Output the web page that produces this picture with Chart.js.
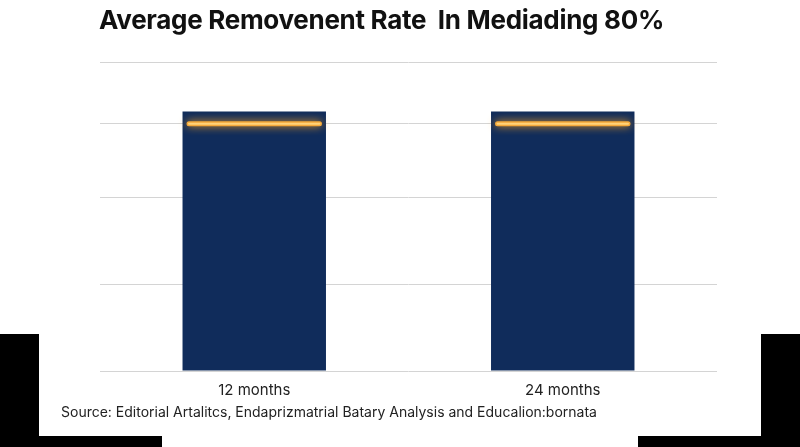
<!DOCTYPE html>
<html>
<head>
<meta charset="utf-8">
<script src="https://cdn.jsdelivr.net/npm/chart.js@4"></script>
<style>
  html, body { margin: 0; padding: 0; background: #fff; }
  #wrap { position: relative; width: 800px; height: 447px; overflow: hidden; font-family: Inter, "Noto Sans", sans-serif; }
  #title { position: absolute; left: 99px; top: 4px; font-size: 26px; font-weight: 700; color: #111; white-space: pre; letter-spacing: -0.3px; }
  #source { position: absolute; left: 61px; top: 403px; font-size: 14px; color: #222; white-space: pre; }
  .blk { position: absolute; background: #000; }
</style>
</head>
<body>
<div id="wrap">
  <canvas id="chart" width="800" height="447"></canvas>
  <div id="title">Average Removenent Rate  In Mediading 80%</div>
  <div id="source">Source: Editorial Artalitcs, Endaprizmatrial Batary Analysis and Educalion:bornata</div>
  <div class="blk" style="left:0;top:334px;width:39px;height:113px"></div>
  <div class="blk" style="left:0;top:436px;width:162px;height:11px"></div>
  <div class="blk" style="left:761px;top:334px;width:39px;height:113px"></div>
  <div class="blk" style="left:638px;top:436px;width:162px;height:11px"></div>
</div>
<script>
// 데이터
const categories = ['12 months', '24 months'];
const rateValues = [84, 84];
const medianValues = [80, 80];
const gridTicks = [0, 28, 56, 80, 100];

// 막대 위에 빛나는 중앙값 선
const glowLine = {
  id: 'glowLine',
  afterDatasetsDraw(chart) {
    const ctx = chart.ctx;
    const meta = chart.getDatasetMeta(0);
    const y = chart.scales.y;
    ctx.save();
    ctx.lineCap = 'round';
    meta.data.forEach((bar, i) => {
      const py = y.getPixelForValue(medianValues[i]);
      const half = bar.width / 2;
      const x1 = bar.x - half + 6.5;
      const x2 = bar.x + half - 6.5;
      ctx.shadowColor = 'rgba(255, 165, 30, 0.95)';
      ctx.shadowBlur = 9;
      ctx.strokeStyle = '#f4a93a';
      ctx.lineWidth = 5;
      ctx.beginPath();
      ctx.moveTo(x1, py);
      ctx.lineTo(x2, py);
      ctx.stroke();
      ctx.shadowBlur = 0;
      ctx.strokeStyle = '#ffd37a';
      ctx.lineWidth = 2;
      ctx.beginPath();
      ctx.moveTo(x1, py);
      ctx.lineTo(x2, py);
      ctx.stroke();
    });
    ctx.restore();
  }
};

Chart.defaults.font.family = 'Inter, "Noto Sans", sans-serif';

new Chart(document.getElementById('chart').getContext('2d'), {
  type: 'bar',
  data: {
    labels: categories,
    datasets: [{
      data: rateValues,
      backgroundColor: '#102c5b',
      categoryPercentage: 1,
      barPercentage: 0.465
    }]
  },
  options: {
    responsive: false,
    animation: false,
    layout: { padding: { left: 100, right: 83, top: 62, bottom: 0 } },
    plugins: { legend: { display: false }, title: { display: false }, tooltip: { enabled: false } },
    scales: {
      x: {
        grid: { display: false },
        border: { display: false },
        ticks: { color: '#222', font: { size: 15 }, padding: 2 },
        afterFit: (s) => { s.height = 76; }
      },
      y: {
        min: 0,
        max: 100,
        border: { display: false },
        grid: { color: '#d4d4d4', lineWidth: 1, drawTicks: false },
        ticks: { display: false },
        afterBuildTicks: (s) => { s.ticks = gridTicks.map(v => ({ value: v })); },
        afterFit: (s) => { s.width = 0; }
      }
    }
  },
  plugins: [glowLine]
});
</script>
</body>
</html>
